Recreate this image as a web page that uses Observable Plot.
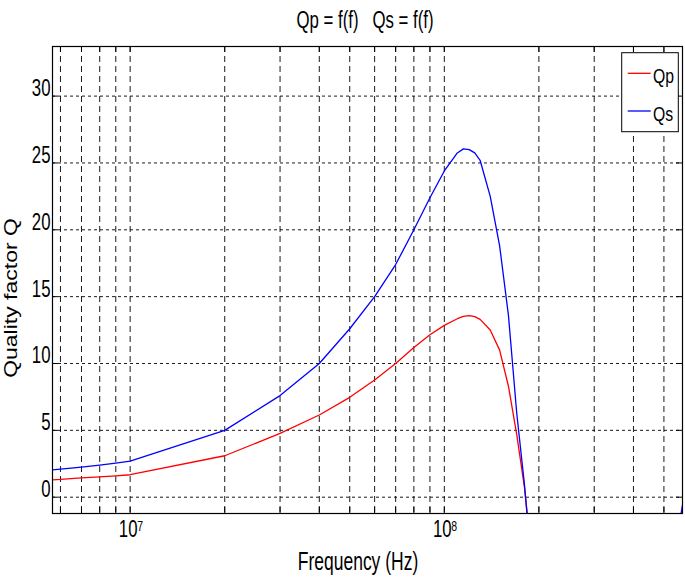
<!DOCTYPE html>
<html><head><meta charset="utf-8">
<script src="https://cdn.jsdelivr.net/npm/d3@7"></script>
<script src="https://cdn.jsdelivr.net/npm/@observablehq/plot@0.6"></script>
<style>body{margin:0;background:#fff} svg{display:block}</style>
</head><body><div id="chart"></div>
<script>
// ---- data ----
const freq = [5.66e6, 6e6, 7e6, 8e6, 9e6, 1e7, 2e7, 3e7, 4e7, 5e7, 6e7, 7e7, 8e7, 9e7, 1e8, 1.1e8, 1.15e8, 1.2e8, 1.25e8, 1.3e8, 1.4e8, 1.5e8, 1.6e8, 1.7e8, 1.8e8, 1.9e8, 5.5e8, 5.73e8];
const Qp   = [1.3, 1.33, 1.45, 1.52, 1.6, 1.68, 3.1, 4.77, 6.15, 7.47, 8.77, 10.0, 11.2, 12.15, 12.85, 13.35, 13.52, 13.58, 13.5, 13.3, 12.5, 11.0, 8.3, 4.7, 0.7, -4.5, null, null];
const Qs   = [2.05, 2.1, 2.25, 2.4, 2.55, 2.7, 5.0, 7.6, 10.0, 12.6, 15.0, 17.4, 20.0, 22.4, 24.4, 25.75, 26.05, 26.0, 25.75, 25.2, 22.5, 18.8, 13.6, 6.3, 0.9, -5.5, -3.0, -0.6];
const yTicks = [0, 5, 10, 15, 20, 25, 30];
const xMajorTicks = [1e7, 1e8];
const xGridTicks = [6e6, 7e6, 8e6, 9e6, 1e7, 2e7, 3e7, 4e7, 5e7, 6e7, 7e7, 8e7, 9e7, 1e8, 2e8, 3e8, 4e8, 5e8];
const seriesNames = ["Qp", "Qs"];
const seriesColors = ["#ff0000", "#0000ff"];
const titleText = "Qp = f(f)   Qs = f(f)";
const xLabel = "Frequency (Hz)";
const yLabel = "Quality factor Q";

const W = 685, H = 586, mL = 52, mR = 3, mT = 46, mB = 73;
const innerW = W - mL - mR, innerH = H - mT - mB;
const FONT = "'Liberation Sans', Arial, Helvetica, sans-serif";
const SX = 0.7;

const qpData = freq.map((f, i) => ({f, q: Qp[i]}));
const qsData = freq.map((f, i) => ({f, q: Qs[i]}));

const svg = Plot.plot({
  width: W, height: H,
  marginLeft: mL, marginRight: mR, marginTop: mT, marginBottom: mB,
  style: {fontFamily: FONT, background: "#fff", color: "#000"},
  x: {type: "log", domain: [5.66e6, 5.73e8], label: null},
  y: {domain: [-1.22, 33.71], label: null},
  marks: [
    // grid
    Plot.ruleX(xGridTicks, {stroke: "#000", strokeWidth: 0.9, strokeDasharray: "6,4"}),
    Plot.ruleY(yTicks, {stroke: "#000", strokeWidth: 0.9, strokeDasharray: "3,3"}),
    // inward ticks
    Plot.ruleX(xGridTicks, {stroke: "#000", insetTop: innerH - 6}),
    Plot.ruleX(xGridTicks, {stroke: "#000", insetBottom: innerH - 6}),
    Plot.ruleY(yTicks, {stroke: "#000", insetRight: innerW - 6}),
    Plot.ruleY(yTicks, {stroke: "#000", insetLeft: innerW - 6}),
    // curves
    Plot.line(qpData, {x: "f", y: "q", stroke: seriesColors[0], strokeWidth: 1.3, clip: true}),
    Plot.line(qsData, {x: "f", y: "q", stroke: seriesColors[1], strokeWidth: 1.3, clip: true}),
    Plot.frame({stroke: "#000", strokeWidth: 1.2}),
    // axes labels
    Plot.axisY({ticks: yTicks, tickSize: 0, tickPadding: 2, fontSize: 24, label: null, tickFormat: d => String(d)}),
    Plot.axisX({ticks: xMajorTicks, tickSize: 0, tickPadding: 23, fontSize: 24, dx: -2, label: null, tickFormat: () => "10"}),
    Plot.axisX({ticks: xMajorTicks, tickSize: 0, tickPadding: 17, fontSize: 15, textAnchor: "start", dx: 7, label: null,
                tickFormat: d => String(Math.round(Math.log10(d)))})
  ]
});

function squeeze(el, sx, sy) {
  const x = el.getAttribute("x"), y = el.getAttribute("y");
  let t = el.getAttribute("transform") || "";
  if (x !== null || y !== null) {
    t += ` translate(${+x || 0},${+y || 0})`;
    el.removeAttribute("x"); el.removeAttribute("y");
  }
  el.setAttribute("transform", `${t} scale(${sx},${sy})`);
}
d3.select(svg).selectAll("text").each(function() { squeeze(this, SX, 1); });

const s = d3.select(svg);
// title
s.append("text").attr("transform", `translate(365,28) scale(${SX},1)`)
  .attr("text-anchor", "middle").attr("font-size", 24).attr("font-family", FONT).attr("fill", "#000")
  .attr("xml:space", "preserve").style("white-space", "pre").text(titleText);
// x label
s.append("text").attr("transform", `translate(358,570) scale(${SX},1)`)
  .attr("text-anchor", "middle").attr("font-size", 25).attr("font-family", FONT).attr("fill", "#000").text(xLabel);
// y label
s.append("text").attr("transform", `translate(16.5,298) rotate(-90) scale(1,0.78)`)
  .attr("text-anchor", "middle").attr("font-size", 23).attr("font-family", FONT).attr("fill", "#000").text(yLabel);
// legend
const lg = s.append("g");
lg.append("rect").attr("x", 621.7).attr("y", 52.7).attr("width", 56.6).attr("height", 79)
  .attr("fill", "#fff").attr("stroke", "#000").attr("stroke-width", 1);
const rowsY = [73.3, 111];
seriesNames.forEach((name, i) => {
  lg.append("line").attr("x1", 627.7).attr("x2", 650.7).attr("y1", rowsY[i]).attr("y2", rowsY[i])
    .attr("stroke", seriesColors[i]).attr("stroke-width", 1.3);
  lg.append("text").attr("transform", `translate(653,${rowsY[i] + 9.5}) scale(0.75,1)`)
    .attr("text-anchor", "start")
    .attr("font-size", 21).attr("font-family", FONT).attr("fill", "#000").text(name);
});

document.getElementById("chart").appendChild(svg);
</script>
</body></html>
